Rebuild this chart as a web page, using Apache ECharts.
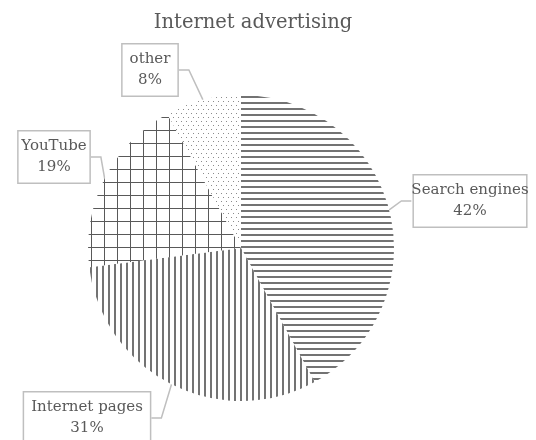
<!DOCTYPE html>
<html lang="en">
<head>
  <meta charset="UTF-8">
  <title>Internet advertising</title>
  <style>
    html, body { margin: 0; padding: 0; background: #fff; }
    #root { width: 536px; height: 440px; }
  </style>
</head>
<body>
  <div id="root"></div>
</body>
<script src="https://cdn.jsdelivr.net/npm/echarts@6/dist/echarts.min.js"></script>
<script>
  // data
  const categories = ['Search engines', 'Internet pages', 'YouTube', 'other']
  const shares = [42, 31, 19, 8]

  // small canvas tiles for the black & white fills
  function tile(w, h, draw) {
    const c = document.createElement('canvas')
    c.width = w
    c.height = h
    const ctx = c.getContext('2d')
    ctx.fillStyle = '#fff'
    ctx.fillRect(0, 0, w, h)
    draw(ctx)
    return { image: c, repeat: 'repeat' }
  }

  const hLines = tile(8, 6, ctx => { ctx.fillStyle = '#737373'; ctx.fillRect(0, 0, 8, 2) })
  const vLines = tile(6, 8, ctx => { ctx.fillStyle = '#737373'; ctx.fillRect(0, 0, 2, 8) })
  const grid = tile(13, 13, ctx => {
    ctx.fillStyle = '#595959'
    ctx.fillRect(0, 0, 13, 1)
    ctx.fillRect(0, 0, 1, 13)
  })
  const dots = tile(10, 8, ctx => {
    ctx.fillStyle = '#8c8c8c'
    ctx.fillRect(1, 1, 1, 1)
    ctx.fillRect(6, 1, 1, 1)
    ctx.fillRect(3, 5, 1, 1)
    ctx.fillRect(8, 5, 1, 1)
  })
  const fills = [hLines, vLines, grid, dots]

  // where each callout box sits
  const labelSpots = [[470, 201], [87, 418], [54, 157], [150, 70]]

  let myChart = echarts.init(document.getElementById('root'))

  let option = {
    animation: false,
    title: {
      text: 'Internet advertising',
      left: 248,
      textAlign: 'center',
      top: 8,
      textStyle: {
        fontFamily: 'DejaVu Serif',
        fontSize: 19.5,
        fontWeight: 'normal',
        color: '#595959'
      }
    },
    series: [
      {
        type: 'pie',
        center: [241, 248],
        radius: 153,
        startAngle: 90,
        clockwise: true,
        percentPrecision: 0,
        data: categories.map((name, i) => ({
          name: name,
          value: shares[i],
          itemStyle: { color: fills[i] }
        })),
        itemStyle: { borderWidth: 0 },
        label: {
          show: true,
          formatter: '{b}\n{d}%',
          fontFamily: 'DejaVu Serif',
          fontSize: 15,
          lineHeight: 21,
          color: '#595959',
          align: 'center',
          overflow: 'none',
          backgroundColor: '#fff',
          borderColor: '#bfbfbf',
          borderWidth: 1.5,
          padding: [5, 7, 4, 7]
        },
        labelLine: {
          show: true,
          length: 10,
          length2: 10,
          lineStyle: { color: '#bfbfbf', width: 1.5 }
        },
        labelLayout: function (params) {
          const p = labelSpots[params.dataIndex]
          return { x: p[0], y: p[1], align: 'center', verticalAlign: 'middle' }
        }
      }
    ]
  }

  myChart.setOption(option)
</script>
</html>
